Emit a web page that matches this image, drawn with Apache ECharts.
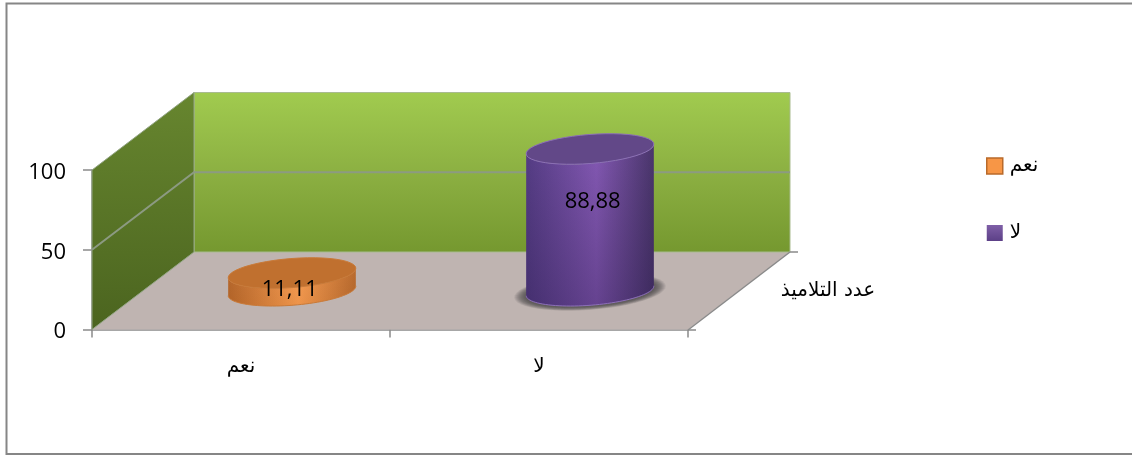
<!DOCTYPE html>
<html>
<head>
<meta charset="utf-8">
<style>html,body{margin:0;padding:0;background:#fff}#chart{width:1132px;height:456px}</style>
<script src="https://cdn.jsdelivr.net/npm/echarts@6/dist/echarts.min.js"></script>
</head>
<body>
<div id="chart"></div>
<script>
// Survey answers, one cylinder per answer
const categories = ['نعم', 'لا'];
const yesValues = [[0, 11.11]];
const noValues = [[1, 88.88]];
const valueTicks = [0, 50, 100];
const depthLabel = 'عدد التلاميذ';

// Oblique projection of the chart box: the axes sit on the front plane, depth runs up and to the right
const DEPTH_X = 102, DEPTH_Y = -77.5;
const LATIN = '"Open Sans", sans-serif';
const ARABIC = '"DejaVu Sans", sans-serif';

const grad = (x2, y2, stops) => new echarts.graphic.LinearGradient(0, 0, x2, y2,
  stops.map(s => ({ offset: s[0], color: s[1] })));

function renderBox(params, api) {
  const band = api.size([1, 0])[0];
  const x0 = api.coord([0, 0])[0] - band / 2;
  const x1 = x0 + band * categories.length;
  const y0 = api.coord([0, 0])[1];
  const yTop = api.coord([0, 100])[1];
  const children = [
    { type: 'polygon', shape: { points: [[x0, y0], [x1, y0], [x1 + DEPTH_X, y0 + DEPTH_Y], [x0 + DEPTH_X, y0 + DEPTH_Y]] },
      style: { fill: '#bfb4b1' } },
    { type: 'polygon', shape: { points: [[x0 + DEPTH_X, y0 + DEPTH_Y], [x1 + DEPTH_X, y0 + DEPTH_Y], [x1 + DEPTH_X, yTop + DEPTH_Y], [x0 + DEPTH_X, yTop + DEPTH_Y]] },
      style: { fill: grad(0, 1, [[0, '#a1cb4f'], [0.5, '#8cb042'], [1, '#75982f']]), stroke: '#a9bb90', lineWidth: 1 } },
    { type: 'polygon', shape: { points: [[x0, y0], [x0, yTop], [x0 + DEPTH_X, yTop + DEPTH_Y], [x0 + DEPTH_X, y0 + DEPTH_Y]] },
      style: { fill: grad(0, 1, [[0, '#67862f'], [1, '#4b641f']]), stroke: '#93a585', lineWidth: 1 } }
  ];
  // Gridlines wrap from the side wall onto the back wall
  valueTicks.filter(v => v > 0 && v < 100).forEach(v => {
    const y = api.coord([0, v])[1];
    children.push({ type: 'polyline', shape: { points: [[x0, y], [x0 + DEPTH_X, y + DEPTH_Y], [x1 + DEPTH_X, y + DEPTH_Y]] },
      style: { fill: null, stroke: '#8c9a82', lineWidth: 2 } });
  });
  // Floor edge with the depth axis ticks at both ends
  children.push(
    { type: 'line', shape: { x1: x1, y1: y0 + 0.5, x2: x1 + DEPTH_X, y2: y0 + DEPTH_Y }, style: { stroke: '#8a8a8a', lineWidth: 1.5 } },
    { type: 'line', shape: { x1: x1, y1: y0 + 0.5, x2: x1 + 8, y2: y0 + 0.5 }, style: { stroke: '#8a8a8a', lineWidth: 1.5 } },
    { type: 'line', shape: { x1: x1 + DEPTH_X, y1: y0 + DEPTH_Y, x2: x1 + DEPTH_X + 8, y2: y0 + DEPTH_Y }, style: { stroke: '#8a8a8a', lineWidth: 1.5 } },
    { type: 'text', style: { x: x1 + DEPTH_X + 38, y: y0 + DEPTH_Y + 39, text: depthLabel, fill: '#000', font: '20px ' + ARABIC, align: 'center', verticalAlign: 'middle' } }
  );
  return { type: 'group', children };
}

// Points of a tilted ellipse from angle a to angle b
function arc(cx, cy, rx, ry, tilt, a, b) {
  const out = [];
  for (let i = 0; i <= 48; i++) {
    const t = a + (b - a) * i / 48;
    const u = rx * Math.cos(t), v = ry * Math.sin(t);
    out.push([cx + u * Math.cos(tilt) + v * Math.sin(tilt), cy - u * Math.sin(tilt) + v * Math.cos(tilt)]);
  }
  return out;
}

// Soft contact shadow on the floor, built from nested translucent ellipses
function floorShadow(cx, cy, rx, ry, tilt, spread) {
  const layers = [];
  for (let i = spread; i > 0; i--) {
    layers.push({ type: 'polygon', shape: { points: arc(cx, cy, rx + i, ry + i * 0.3, tilt, 0, Math.PI * 2) },
      style: { fill: 'rgba(60,50,50,0.09)' } });
  }
  return layers;
}

function cylinderRenderer(look) {
  return function (params, api) {
    const idx = api.value(0), val = api.value(1);
    const front = api.coord([idx, 0]);
    const topFront = api.coord([idx, val]);
    const band = api.size([1, 0])[0];
    const h = front[1] - topFront[1];
    const cx = front[0] + DEPTH_X / 2;
    const cy = front[1] + DEPTH_Y / 2;
    const rx = band * 0.2148, ry = 14.5, tilt = 0.078;
    const lower = arc(cx, cy, rx, ry, tilt, 0, Math.PI);
    const side = lower.concat(arc(cx, cy - h, rx, ry, tilt, Math.PI, 0));
    const lift = 0.705 * h - 11;
    const shift = 0.04 * h - 3;
    return { type: 'group', children: floorShadow(cx, cy + 1, rx, ry, tilt, look.shadow).concat([
      { type: 'polygon', shape: { points: side }, style: { fill: grad(1, 0, look.side) } },
      { type: 'polygon', shape: { points: side }, style: { fill: grad(0, 1, [[0, 'rgba(30,15,50,0)'], [1, look.fade]]) } },
      { type: 'polyline', shape: { points: lower }, style: { fill: null, stroke: look.rim, lineWidth: 1 } },
      { type: 'polygon', shape: { points: arc(cx, cy - h, rx, ry, tilt, 0, Math.PI * 2) },
        style: { fill: look.top, stroke: look.rim, lineWidth: 1 } },
      { type: 'text', style: { x: cx + shift, y: cy - lift, text: String(val).replace('.', ','), fill: '#000', font: '22px ' + LATIN, align: 'center', verticalAlign: 'middle' } }
    ]) };
  };
}

const option = {
  animation: false,
  backgroundColor: '#fff',
  graphic: [{ type: 'rect', silent: true, shape: { x: 6.5, y: 3.5, width: 1140, height: 450.5 },
    style: { fill: null, stroke: '#868686', lineWidth: 2 } }],
  grid: { left: 92, top: 170, width: 596, height: 159.5, containLabel: false },
  xAxis: { type: 'category', data: categories,
    axisLine: { lineStyle: { color: '#8a8a8a', width: 1.5 } },
    axisTick: { show: true, length: 8, lineStyle: { color: '#8a8a8a', width: 1.5 } },
    axisLabel: { margin: 27, color: '#000', fontSize: 20, fontFamily: ARABIC } },
  yAxis: { type: 'value', min: valueTicks[0], max: valueTicks[2], interval: valueTicks[1],
    splitLine: { show: false },
    axisLine: { show: true, lineStyle: { color: '#8a8a8a', width: 1.5 } },
    axisTick: { show: true, length: 9, lineStyle: { color: '#8a8a8a', width: 1.5 } },
    axisLabel: { margin: 26, color: '#000', fontFamily: LATIN, fontSize: 22,
      formatter: '{n|{value}}', rich: { n: { fontSize: 22, fontFamily: LATIN, color: '#000', padding: [5, 0, 0, 0] } } } },
  legend: { orient: 'vertical', left: 981, top: 151, itemWidth: 16, itemHeight: 16, itemGap: 47,
    textStyle: { color: '#000', fontSize: 20, fontFamily: ARABIC, padding: [0, 0, 0, 2] },
    selectedMode: false,
    data: [
      { name: categories[0], icon: 'rect', itemStyle: { color: '#f79646', borderColor: '#b96a2a', borderWidth: 1.5 } },
      { name: categories[1], icon: 'rect', itemStyle: { color: grad(0, 1, [[0, '#7f5fa7'], [1, '#5c4087']]), borderWidth: 0 } }
    ] },
  series: [
    { type: 'custom', name: 'box', z: 1, data: [[0, 0]], renderItem: renderBox, silent: true },
    { type: 'custom', name: categories[0], z: 3, itemStyle: { color: '#f79646' }, data: yesValues, clip: false,
      renderItem: cylinderRenderer({
        shadow: 0, fade: 'rgba(120,50,0,0.10)', top: '#c0702f', rim: '#c97a38',
        side: [[0, '#b9692b'], [0.55, '#fb9f52'], [1, '#bb6c2e']] }) },
    { type: 'custom', name: categories[1], z: 3, itemStyle: { color: '#7a5a9e' }, data: noValues, clip: false,
      renderItem: cylinderRenderer({
        shadow: 12, fade: 'rgba(30,15,60,0.3)', top: '#624888', rim: '#8c6fb8',
        side: [[0, '#553d85'], [0.55, '#8459b4'], [1, '#4a366c']] }) }
  ]
};

echarts.init(document.getElementById('chart'), null, { renderer: 'canvas' }).setOption(option);
</script>
</body>
</html>
